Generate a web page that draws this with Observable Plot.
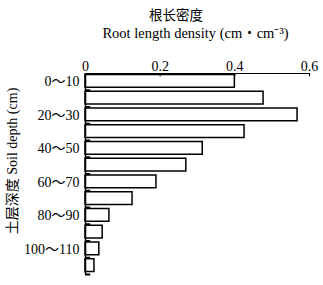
<!DOCTYPE html>
<html>
<head>
<meta charset="utf-8">
<script src="https://cdn.jsdelivr.net/npm/d3@7"></script>
<script src="https://cdn.jsdelivr.net/npm/@observablehq/plot@0.6"></script>
<style>
  body { margin: 0; background: #fff; }
  svg { font-family: "Liberation Serif", "Noto Sans CJK SC", serif; }
</style>
</head>
<body>
<div id="chart"></div>
<script>
const depths = ["0～10","10～20","20～30","30～40","40～50","50～60","60～70","70～80","80～90","90～100","100～110","110～120"];
const density = [0.40,0.477,0.568,0.426,0.314,0.27,0.19,0.126,0.064,0.046,0.037,0.024];
const xTicks = [0, 0.2, 0.4, 0.6];
const titleCn = "根长密度";
const titleEn = "Root length density (cm・cm⁻³)";
const yTitle = "土层深度 Soil depth (cm)";

const data = depths.map((d, i) => ({depth: d, i, v: density[i]}));
const labelPos = data.filter(d => d.i % 2 === 0).map(d => d.i + 0.5);
const bounds = d3.range(1, depths.length + 1);

const plot = Plot.plot({
  width: 323,
  height: 285,
  marginLeft: 85,
  marginRight: 14,
  marginTop: 73,
  marginBottom: 11,
  style: {fontSize: "14px", fontFamily: '"Liberation Serif", "Noto Sans CJK SC", serif', color: "#000", background: "#fff"},
  x: {domain: [0, 0.6]},
  y: {domain: [0, depths.length], reverse: true},
  marks: [
    Plot.rectX(data, {x1: 0, x2: "v", y1: d => d.i, y2: d => d.i + 1, fill: "#fff", stroke: "#000", strokeWidth: 1.5, insetTop: 1.5, insetBottom: 2.5}),
    Plot.ruleY([0], {x1: 0, x2: 0.6, stroke: "#000", strokeWidth: 1.2}),
    Plot.ruleX([0], {y1: 0, y2: depths.length, stroke: "#000", strokeWidth: 1.5}),
    Plot.ruleX(xTicks, {y1: 0, y2: 0.2, stroke: "#000", strokeWidth: 1.2}),
    Plot.ruleY(bounds, {x1: 0, x2: 0.014, stroke: "#000", strokeWidth: 2}),
    Plot.axisX({anchor: "top", ticks: xTicks, tickSize: 0, tickPadding: 3, tickFormat: d => String(d), fontSize: 14, label: null}),
    Plot.axisY({anchor: "left", ticks: labelPos, tickSize: 0, tickPadding: 6, tickFormat: d => depths[Math.floor(d)], fontSize: 14, label: null}),
    Plot.text([titleCn], {frameAnchor: "top", lineAnchor: "middle", dy: -58, dx: -21.5, fontSize: 13.5, fontFamily: '"Noto Sans CJK SC", sans-serif'}),
    Plot.text([titleEn], {frameAnchor: "top", lineAnchor: "middle", dy: -40, dx: -2, fontSize: 14.5}),
    Plot.text([yTitle], {frameAnchor: "left", textAnchor: "middle", lineAnchor: "middle", rotate: -90, dx: -73, dy: -13, fontSize: 14, fontFamily: '"Liberation Serif", "Noto Sans CJK SC", serif'})
  ]
});
document.getElementById("chart").appendChild(plot);
</script>
</body>
</html>
